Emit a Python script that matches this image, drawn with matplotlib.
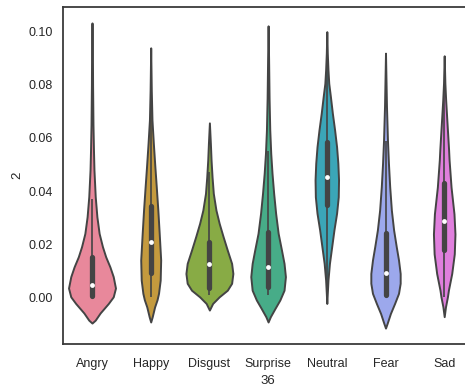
import numpy as np
import matplotlib
matplotlib.use("Agg")
import matplotlib.pyplot as plt
from matplotlib.ticker import FormatStrFormatter

emotions = ["Angry", "Happy", "Disgust", "Surprise", "Neutral", "Fear", "Sad"]
colors = ["#e8889b", "#c49a3e", "#88ab45", "#47ac88", "#3ba6b8", "#9ca8ec", "#e07fdd"]

# density profiles (value, relative density)
angry_y = [-0.0098, -0.0087, -0.006, -0.0024, 0.0001, 0.0034, 0.0077, 0.0114, 0.0152,
           0.019, 0.024, 0.0303, 0.0379, 0.048, 0.0555, 0.065, 0.08, 0.095, 0.1034]
angry_d = [0, 3.3, 8.3, 16.7, 21.7, 24, 21.7, 18.3, 14, 10.7, 7.3, 5, 3.3, 2, 1.5, 1.0, 0.6, 0.4, 0]

happy_y = [-0.0094, -0.0075, -0.0037, -0.001, 0.0014, 0.0064, 0.014, 0.024, 0.0328,
           0.0416, 0.049, 0.058, 0.0668, 0.078, 0.094]
happy_d = [0, 1.5, 4, 6.5, 8, 9.7, 10.2, 8.7, 7.3, 5.7, 4.3, 2.7, 1.3, 0.6, 0]

disgust_y = [-0.0049, -0.0024, 0.0001, 0.0026, 0.0052, 0.0089, 0.0127, 0.0177, 0.0228,
             0.0278, 0.0328, 0.0391, 0.0454, 0.0517, 0.058, 0.0657]
disgust_d = [0, 3.3, 10, 18.3, 22.7, 24, 22.7, 18.3, 14, 10, 6.7, 4, 2.7, 1.7, 1.0, 0]

surprise_y = [-0.0094, -0.0074, -0.0043, -0.0011, 0.0026, 0.0077, 0.0127, 0.0177, 0.024,
              0.0316, 0.0391, 0.0467, 0.0542, 0.063, 0.075, 0.09, 0.1023]
surprise_d = [0, 2.3, 7, 12, 16.3, 17.7, 16.3, 13.7, 10.3, 7.7, 5.7, 4, 2.7, 1.7, 1.0, 0.5, 0]

neutral_y = [-0.0024, 0.0014, 0.0064, 0.0127, 0.019, 0.0253, 0.0316, 0.0378, 0.0442,
             0.0505, 0.0567, 0.063, 0.0693, 0.0756, 0.0806, 0.0857, 0.092, 0.1001]
neutral_d = [0, 0.5, 1.2, 2.7, 5, 7.3, 10, 11.7, 12, 11.3, 10, 8, 5.7, 3.7, 2, 1.2, 0.5, 0]

fear_y = [-0.0117, -0.0099, -0.0062, -0.0024, 0.0014, 0.0052, 0.0089, 0.014, 0.019,
          0.0253, 0.0328, 0.0416, 0.0505, 0.0592, 0.072, 0.082, 0.092]
fear_d = [0, 1.7, 5, 9.3, 13.3, 15, 15, 13.3, 11, 8.3, 6, 4.3, 3, 2, 1.0, 0.5, 0]

sad_y = [-0.0074, -0.0037, 0.0001, 0.0026, 0.0089, 0.0163, 0.0238, 0.0314, 0.0415,
         0.0517, 0.0555, 0.0618, 0.068, 0.0743, 0.0806, 0.091]
sad_d = [0, 1.3, 3.3, 4.3, 7.7, 10.3, 11, 10, 7, 5, 4.5, 3.5, 2.5, 1.5, 0.7, 0]

# inner box stats
q1 = [0.0004, 0.009, 0.0034, 0.0038, 0.0347, 0.0008, 0.0177]
medians = [0.0045, 0.0208, 0.0125, 0.0113, 0.0453, 0.009, 0.0287]
q3 = [0.0151, 0.0343, 0.0208, 0.0245, 0.0585, 0.0242, 0.043]
whisk_lo = [0.0, 0.0, 0.0008, 0.0008, 0.0, 0.0, 0.0]
whisk_hi = [0.037, 0.072, 0.047, 0.055, 0.094, 0.059, 0.08]

profiles = [(angry_y, angry_d), (happy_y, happy_d), (disgust_y, disgust_d),
            (surprise_y, surprise_d), (neutral_y, neutral_d), (fear_y, fear_d),
            (sad_y, sad_d)]

plt.rcParams["font.family"] = ["Liberation Sans", "DejaVu Sans"]
gray = "#444444"

fig = plt.figure(figsize=(4.65, 3.89), dpi=100)
ax = fig.add_axes([62.65 / 465, 45 / 389, 410.9 / 465, 337 / 389])

# scale="area": widths relative to the largest density
dmax = max(max(d) for _, d in profiles)
vpstats = []
widths = []
for (ys, ds), m in zip(profiles, medians):
    vpstats.append({"coords": np.array(ys), "vals": np.array(ds), "mean": m,
                    "median": m, "min": ys[0], "max": ys[-1]})
    widths.append(0.8 * max(ds) / dmax)

pos = np.arange(len(emotions))
parts = ax.violin(vpstats, positions=pos, widths=widths, showextrema=False)
for body, c in zip(parts["bodies"], colors):
    body.set_facecolor(c)
    body.set_edgecolor(gray)
    body.set_linewidth(1.4)
    body.set_alpha(1)

ax.vlines(pos, whisk_lo, whisk_hi, color=gray, lw=1.2, zorder=3)
ax.vlines(pos, q1, q3, color=gray, lw=3.8, zorder=3, capstyle="round")
ax.scatter(pos, medians, s=12, color="white", zorder=4, linewidths=0)

ax.set_xlim(-0.5, 6.5)
ax.set_ylim(-0.0177, 0.1094)
ax.set_xticks(pos)
ax.set_xticklabels(emotions)
ax.set_yticks([0, 0.02, 0.04, 0.06, 0.08, 0.10])
ax.yaxis.set_major_formatter(FormatStrFormatter("%.2f"))
ax.tick_params(axis="y", length=0, labelsize=9, colors="#262626", pad=7)
ax.tick_params(axis="x", length=0, labelsize=9, colors="#262626", pad=10)
ax.set_xlabel("36", fontsize=9.5, color="#262626", labelpad=4)
ax.set_ylabel("2", fontsize=9.5, color="#262626", labelpad=4)
for s in ax.spines.values():
    s.set_color("#3a3a3a")
    s.set_linewidth(1.3)

fig.savefig("out.png", dpi=100)
